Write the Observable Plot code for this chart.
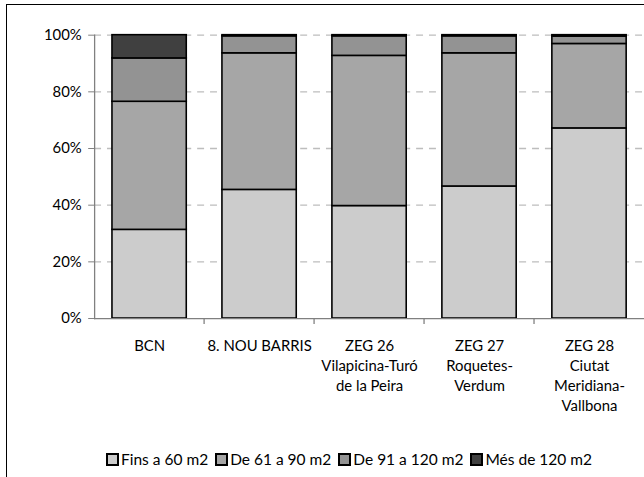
<!DOCTYPE html>
<html><head><meta charset="utf-8">
<script src="https://cdn.jsdelivr.net/npm/d3@7"></script>
<script src="https://cdn.jsdelivr.net/npm/@observablehq/plot@0.6"></script>
<style>
html,body{margin:0;padding:0;background:#fff;overflow:hidden;}
#wrap{position:relative;width:644px;height:477px;overflow:hidden;font-family:Lato,sans-serif;color:#000;}
#frame{position:absolute;left:6px;top:4px;width:700px;height:600px;border-left:1.5px solid #000;border-top:1.5px solid #000;box-sizing:border-box;}
#chart{position:absolute;left:0;top:0;}
#legend{position:absolute;top:450px;left:106px;display:flex;font-size:15.5px;white-space:nowrap;}
.item{display:flex;align-items:center;margin-right:7px;}
.sw{width:13px;height:13px;box-sizing:border-box;border:2px solid #000;margin-right:2px;}
</style>
</head><body>
<div id="wrap"><div id="frame"></div><div id="chart"></div><div id="legend"></div></div>
<script>
const categories = ["BCN","8. NOU BARRIS","ZEG 26","ZEG 27","ZEG 28"];
const tickLabels = ["BCN","8. NOU BARRIS","ZEG 26\nVilapicina-Turó\nde la Peira","ZEG 27\nRoquetes-\nVerdum","ZEG 28\nCiutat\nMeridiana-\nVallbona"];
const series = ["Fins a 60 m2","De 61 a 90 m2","De 91 a 120 m2","Més de 120 m2"];
const fins60   = [31.3, 45.4, 39.7, 46.6, 67.1];
const de61a90  = [45.2, 48.2, 53.0, 47.0, 29.8];
const de91a120 = [15.3,  6.0,  6.9,  6.0,  2.6];
const mes120   = [ 8.2,  0.4,  0.4,  0.4,  0.5];
const colors = ["#cccccc","#a6a6a6","#939393","#404040"];
const yTicks = [0,20,40,60,80,100];

const seriesValues = [fins60, de61a90, de91a120, mes120];
const data = categories.flatMap((c,i)=>series.map((s,j)=>({cat:c, series:s, value:seriesValues[j][i]})));

const chart = Plot.plot({
  width: 650, height: 477,
  marginLeft: 95, marginRight: 0, marginTop: 35, marginBottom: 156,
  style: {fontFamily: 'Lato, sans-serif', fontSize: "15px", color: "#000", background: "transparent", overflow: "visible"},
  x: {domain: categories, paddingInner: 0.32, paddingOuter: 0.16, label: null},
  y: {domain: [0,100], label: null},
  color: {domain: series, range: colors},
  marks: [
    Plot.gridY(yTicks.slice(1), {stroke: "#bdbdbd", strokeOpacity: 1, strokeDasharray: "7,6", strokeWidth: 1.3}),
    Plot.barY(data, {x: "cat", y: "value", fill: "series", stroke: "#000", strokeWidth: 1.6, order: series}),
    Plot.ruleY([0], {stroke: "#808080", strokeWidth: 1.3}),
    Plot.frame({anchor: "left", stroke: "#808080", strokeWidth: 1.3}),
    Plot.axisY({ticks: yTicks, tickFormat: d => d + "%", tickSize: 6, tickPadding: 7, stroke: "#808080", fill: "#000"}),
    Plot.axisX({tickSize: 0, tickPadding: 19, tickFormat: d => tickLabels[categories.indexOf(d)], lineHeight: 1.33, fill: "#000"})
  ]
});
document.getElementById("chart").appendChild(chart);

// category boundary ticks on the x axis
const xs = chart.scale("x"), ys = chart.scale("y");
const y0 = ys.apply(0);
d3.select(chart).append("g").attr("stroke", "#808080").attr("stroke-width", 1.3)
  .selectAll("line").data(categories.slice(1)).join("line")
  .attr("x1", d => xs.apply(d) - (xs.step - xs.bandwidth) / 2)
  .attr("x2", d => xs.apply(d) - (xs.step - xs.bandwidth) / 2)
  .attr("y1", y0).attr("y2", y0 + 6);

const legend = d3.select("#legend");
series.forEach((s,i) => {
  const it = legend.append("div").attr("class","item");
  it.append("div").attr("class","sw").style("background", colors[i]);
  it.append("span").text(s);
});
</script>
</body></html>
